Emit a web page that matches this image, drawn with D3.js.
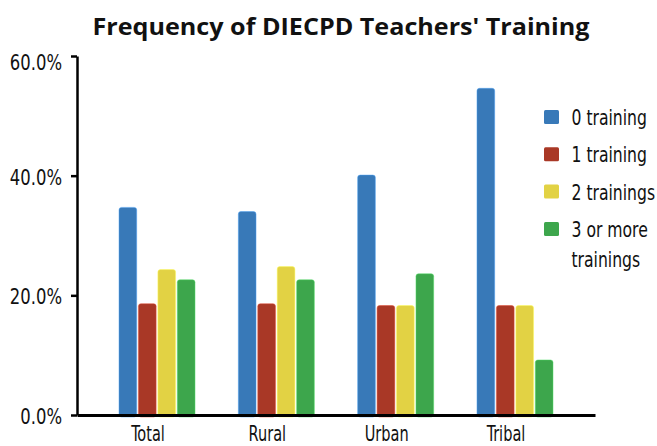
<!DOCTYPE html>
<html>
<head>
<meta charset="utf-8">
<script src="https://cdn.jsdelivr.net/npm/d3@7"></script>
<style>
body { margin: 0; background: #fff; }
text { font-family: "DejaVu Sans Condensed", "DejaVu Sans", sans-serif; fill: #111; }
.title { font-family: "Open Sans", "Liberation Sans", sans-serif; font-weight: bold; }
</style>
</head>
<body>
<div class="chart"></div>
<script>
var categories = ["Total", "Rural", "Urban", "Tribal"];
var series = ["0 training", "1 training", "2 trainings", "3 or more trainings"];
var zeroTraining = [0.347, 0.340, 0.401, 0.546];
var oneTraining = [0.186, 0.186, 0.183, 0.183];
var twoTrainings = [0.243, 0.248, 0.183, 0.183];
var threeOrMore = [0.226, 0.226, 0.236, 0.092];
var yTicks = [0, 0.2, 0.4, 0.6];
var colors = ["#3879b8", "#a93826", "#e2d244", "#3da64c"];

var width = 657, height = 446;
var values = [zeroTraining, oneTraining, twoTrainings, threeOrMore];

// squeeze text horizontally so it looks like the condensed face of the original
function condense(sel, f) {
	sel.each(function() {
		var w = this.getComputedTextLength();
		d3.select(this).attr("textLength", w * f).attr("lengthAdjust", "spacingAndGlyphs");
	});
}

var svg = d3.select(".chart").append("svg").attr("width", width).attr("height", height);

var x = d3.scaleBand().domain(categories).range([77, 595]).paddingInner(0.363).paddingOuter(0.352);
var xs = d3.scaleBand().domain(series).range([0, x.bandwidth()]).paddingInner(0.09);
var y = d3.scaleLinear().domain([0, 0.6]).range([415, 56]);

svg.append("text").attr("class", "title")
	.attr("x", 341).attr("y", 35)
	.attr("text-anchor", "middle")
	.style("font-size", "23px")
	.attr("textLength", 497).attr("lengthAdjust", "spacingAndGlyphs")
	.text("Frequency of DIECPD Teachers' Training");

// bars
var groups = svg.selectAll(".grp").data(categories).enter().append("g")
	.attr("class", "grp")
	.attr("transform", function(d) { return "translate(" + x(d) + ",0)"; });

groups.each(function(c, ci) {
	d3.select(this).selectAll("rect").data(series).enter().append("rect")
		.attr("x", function(s) { return xs(s); })
		.attr("y", function(s, si) { return y(values[si][ci]); })
		.attr("width", xs.bandwidth())
		.attr("height", function(s, si) { return y(0) - y(values[si][ci]) + 2; })
		.attr("rx", 2.5)
		.attr("fill", function(s, si) { return colors[si]; })
		.attr("stroke", function(s, si) { return d3.color(colors[si]).brighter(0.8); })
		.attr("stroke-opacity", 0.6)
		.attr("stroke-width", 0.8);
});

// y axis
var yAxis = d3.axisLeft(y).tickValues(yTicks).tickFormat(d3.format(".1%"))
	.tickSizeInner(6).tickSizeOuter(0).tickPadding(9);
var ya = svg.append("g").attr("transform", "translate(77,0)").call(yAxis);
ya.select(".domain").attr("stroke", "#000").attr("stroke-width", 2.5);
ya.selectAll(".tick line").attr("stroke", "#000").attr("stroke-width", 2.5);
ya.selectAll(".tick text").style("font-size", "22px").attr("fill", "#111").attr("font-family", null)
	.attr("dy", function(d) { return d === 0.6 ? "0.62em" : "0.38em"; });
condense(ya.selectAll(".tick text"), 0.83);

// x axis
var xAxis = d3.axisBottom(x).tickSize(0).tickPadding(11);
var xa = svg.append("g").attr("transform", "translate(0,415)").call(xAxis);
xa.select(".domain").attr("stroke", "#000").attr("stroke-width", 3);
xa.selectAll(".tick text").style("font-size", "21px").attr("fill", "#111").attr("font-family", null)
	.attr("dx", -9);
condense(xa.selectAll(".tick text"), 0.77);

// legend
var legend = svg.append("g").attr("transform", "translate(544,110)");
var items = legend.selectAll("g").data(series).enter().append("g")
	.attr("transform", function(d, i) { return "translate(0," + (i * 37.3) + ")"; });
items.append("rect").attr("width", 15).attr("height", 14).attr("rx", 1.5)
	.attr("fill", function(d, i) { return colors[i]; });
items.append("text")
	.attr("transform", "translate(27.5,15) scale(0.79,1)")
	.style("font-size", "22px")
	.each(function(d) {
		var t = d3.select(this);
		var parts = d === "3 or more trainings" ? ["3 or more", "trainings"] : [d];
		parts.forEach(function(p, i) {
			t.append("tspan").attr("x", 0).attr("dy", i === 0 ? 0 : 30).text(p);
		});
	});
</script>
</body>
</html>
